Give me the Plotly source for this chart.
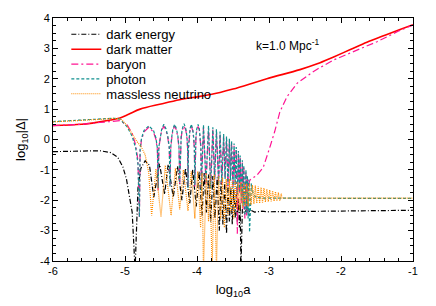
import plotly.graph_objects as go

# ---------------- data ----------------
de_x = [-6, -5.6, -5.35, -5.2, -5.1, -5.03, -4.98, -4.9, -4.86,
        -4.82, -4.78, -4.72, -4.66, -4.6, -4.52, -4.45, -4.40, -4.33, -4.27, -4.21,
        -4.16, -4.10, -4.06, -4.01, -3.97, -3.93, -3.90, -3.87, -3.84, -3.81,
        -3.78, -3.75, -3.72, -3.69, -3.665, -3.64, -3.615, -3.59, -3.57, -3.55,
        -3.53, -3.51, -3.49, -3.47, -3.455, -3.44, -3.425, -3.41, -3.40, -3.39,
        -3.37, -3.34, -3.31, -3.28, -3.25, -3.2, -3.1, -3.0, -2.0, -1.0]
de_y = [-0.40, -0.37, -0.37, -0.43, -0.59, -0.90, -1.30, -2.40, -4.30,
        -1.60, -0.95, -0.70, -0.85, -1.90, -0.80, -1.80, -0.82, -1.90, -0.88, -2.00,
        -0.95, -2.10, -1.00, -2.20, -1.05, -2.50, -1.10, -2.40, -1.15, -2.70,
        -1.20, -2.60, -1.25, -3.00, -1.35, -2.80, -1.40, -3.10, -1.50, -2.70,
        -1.58, -2.80, -1.65, -2.60, -1.80, -2.70, -1.95, -2.90, -2.10, -4.30,
        -2.30, -2.42, -2.30, -2.40, -2.33, -2.39, -2.36, -2.38, -2.35, -2.33]

dm_x = [-6, -5.6, -5.35, -5.2, -5.07, -4.95, -4.79, -4.5, -4.24, -3.96, -3.68,
        -3.5, -3.03, -2.57, -2.33, -2.11, -1.87, -1.64, -1.4, -1.18, -1.0]
dm_y = [0.46, 0.50, 0.58, 0.64, 0.71, 0.83, 1.00, 1.17, 1.31, 1.42, 1.55,
        1.66, 2.00, 2.30, 2.49, 2.71, 2.96, 3.20, 3.42, 3.62, 3.78]

ph_x = [-6, -5.6, -5.3, -5.15, -5.07, -4.97, -4.90, -4.85, -4.82, -4.80,
        -4.79, -4.77, -4.735, -4.67, -4.605, -4.57, -4.55, -4.54,
        -4.53, -4.51, -4.49, -4.46, -4.43, -4.405, -4.385, -4.375,
        -4.365, -4.35, -4.335, -4.31, -4.285, -4.265, -4.25, -4.24,
        -4.232, -4.22, -4.205, -4.18, -4.155, -4.14, -4.13, -4.125,
        -4.118, -4.108, -4.097, -4.08, -4.06, -4.047, -4.037, -4.03,
        -4.024, -4.015, -4.003, -3.985, -3.967, -3.955, -3.946, -3.94,
        -3.91, -3.875, -3.84, -3.81, -3.78, -3.755, -3.73, -3.70, -3.68, -3.655,
        -3.63, -3.61, -3.59, -3.57, -3.55, -3.535, -3.52, -3.50, -3.485, -3.47,
        -3.455, -3.44, -3.425, -3.41, -3.40, -3.385, -3.37, -3.36, -3.35, -3.335,
        -3.32, -3.31, -3.30, -3.29, -3.28, -3.27, -3.245, -3.22, -3.18, -3.1, -1.0]
ph_y = [0.59, 0.63, 0.68, 0.70, 0.67, 0.42, 0.10, -0.30, -0.80, -2.55,
        -0.30, 0.05, 0.30, 0.45, 0.30, 0.05, -0.30, -1.60,
        -0.25, 0.10, 0.35, 0.50, 0.35, 0.10, -0.25, -1.55,
        -0.25, 0.10, 0.35, 0.50, 0.35, 0.10, -0.25, -1.40,
        -0.25, 0.10, 0.35, 0.52, 0.35, 0.10, -0.25, -1.60,
        -0.25, 0.10, 0.35, 0.50, 0.35, 0.10, -0.25, -1.50,
        -0.25, 0.10, 0.35, 0.50, 0.35, 0.10, -0.25, -1.70,
        0.48, -1.40, 0.45, -1.60, 0.40, -1.30, 0.34, -1.50, 0.26, -1.40,
        0.18, -1.30, 0.10, -1.50, 0.03, -1.35, -0.05, -1.60, -0.13, -1.50,
        -0.25, -1.80, -0.38, -1.70, -0.53, -2.00, -0.68, -2.20, -0.85, -2.50,
        -1.00, -2.40, -1.18, -2.60, -1.32, -3.05, -1.44, -1.80, -1.90, -1.93, -1.94]

ba_x = [-6, -5.6, -5.35, -5.2, -5.07, -4.97, -4.90, -4.85, -4.82, -4.80,
        -4.79, -4.77, -4.735, -4.67, -4.605, -4.57, -4.55, -4.54,
        -4.53, -4.51, -4.49, -4.46, -4.43, -4.405, -4.385, -4.375,
        -4.365, -4.35, -4.335, -4.31, -4.285, -4.265, -4.25, -4.24,
        -4.232, -4.22, -4.205, -4.18, -4.155, -4.14, -4.13, -4.125,
        -4.118, -4.108, -4.097, -4.08, -4.06, -4.047, -4.037, -4.03,
        -4.024, -4.015, -4.003, -3.985, -3.967, -3.955, -3.946, -3.94,
        -3.91, -3.875, -3.84, -3.81, -3.78, -3.755, -3.73, -3.70, -3.68, -3.655,
        -3.63, -3.61, -3.59, -3.57, -3.55, -3.535, -3.52, -3.50, -3.485, -3.47,
        -3.455, -3.44, -3.425, -3.41, -3.40, -3.385, -3.37, -3.36, -3.35, -3.335,
        -3.32, -3.31, -3.30, -3.29, -3.275, -3.26, -3.17, -3.08, -3.035, -2.99, -2.92, -2.85,
        -2.75, -2.61, -2.43, -2.32, -2.1, -1.87, -1.5, -1.2, -1.0]
ba_y = [0.46, 0.50, 0.56, 0.60, 0.62, 0.48, 0.20, -0.20, -0.70, -2.55,
        -0.35, 0.00, 0.25, 0.40, 0.25, 0.00, -0.35, -1.70,
        -0.30, 0.05, 0.30, 0.44, 0.30, 0.05, -0.30, -1.50,
        -0.30, 0.05, 0.30, 0.44, 0.30, 0.05, -0.30, -1.45,
        -0.30, 0.05, 0.30, 0.45, 0.30, 0.05, -0.30, -1.55,
        -0.30, 0.05, 0.30, 0.44, 0.30, 0.05, -0.30, -1.55,
        -0.30, 0.05, 0.30, 0.43, 0.30, 0.05, -0.30, -1.60,
        0.40, -1.45, 0.37, -1.55, 0.32, -1.35, 0.26, -1.45, 0.18, -1.45,
        0.10, -1.25, 0.02, -1.55, -0.05, -1.40, -0.13, -1.55, -0.21, -1.45,
        -0.33, -3.10, -0.46, -1.75, -0.61, -2.10, -0.76, -2.30, -0.93, -2.60,
        -1.08, -2.50, -1.25, -2.40, -1.40, -1.32, -1.18, -0.92, -0.62, -0.27, 0.27, 0.90,
        1.41, 1.85, 2.16, 2.33, 2.62, 2.86, 3.22, 3.57, 3.77]

nu_x = [-6, -5.6, -5.3, -5.15, -5.05, -4.97, -4.90, -4.84, -4.78, -4.72, -4.67, -4.63,
        -4.57, -4.50, -4.44, -4.36, -4.30, -4.24, -4.19, -4.125, -4.08, -4.03,
        -3.99, -3.95, -3.93, -3.91, -3.87, -3.84, -3.82, -3.79, -3.76, -3.73,
        -3.70, -3.67, -3.645, -3.62, -3.595, -3.57, -3.55, -3.53, -3.51, -3.49,
        -3.47, -3.45, -3.43, -3.41, -3.39, -3.37, -3.35, -3.33, -3.31, -3.29,
        -3.27, -3.25, -3.23, -3.21, -3.19, -3.17, -3.15, -3.13, -3.11, -3.09,
        -3.07, -3.05, -3.03, -3.01, -2.99, -2.97, -2.95, -2.93, -2.91, -2.89,
        -2.87, -2.85, -2.83, -2.82, -1.0]
nu_y = [0.58, 0.62, 0.67, 0.70, 0.66, 0.45, 0.18, -0.05, -0.22, -0.50, -1.10, -2.50,
        -0.97, -2.55, -0.85, -2.50, -0.95, -2.30, -1.00, -2.35, -1.05, -2.60,
        -1.05, -2.90, -1.10, -4.30, -1.10, -2.70, -1.15, -4.30, -1.15, -4.30,
        -1.20, -2.60, -1.25, -2.90, -1.30, -2.50, -1.30, -2.40, -1.35, -2.60,
        -1.35, -2.30, -1.40, -2.35, -1.40, -2.25, -1.42, -2.20, -1.45, -2.20,
        -1.45, -2.15, -1.50, -2.12, -1.52, -2.10, -1.55, -2.10, -1.58, -2.08,
        -1.60, -2.06, -1.63, -2.05, -1.66, -2.04, -1.69, -2.03, -1.72, -2.02,
        -1.75, -2.01, -1.78, -1.93, -1.93]

x_tick_vals = [-6, -5, -4, -3, -2, -1]
x_tick_text = ["-6", "-5", "-4", "-3", "-2", "-1"]
y_tick_vals = [-4, -3, -2, -1, 0, 1, 2, 3, 4]
y_tick_text = ["-4", "-3", "-2", "-1", "0", "1", "2", "3", "4"]

names = ["dark energy", "dark matter", "baryon", "photon", "massless neutrino"]

# ---------------- figure ----------------
FONT = "Liberation Sans, Arial, Helvetica, sans-serif"
fig = go.Figure()
fig.add_trace(go.Scatter(x=de_x, y=de_y, mode="lines", name=names[0], legend="legend",
                         line=dict(color="black", width=1.2, dash="5px,2px,1px,2px")))
fig.add_trace(go.Scatter(x=dm_x, y=dm_y, mode="lines", name=names[1], legend="legend2",
                         line_shape="spline", line=dict(color="#ff0000", width=1.6)))
fig.add_trace(go.Scatter(x=ba_x, y=ba_y, mode="lines", name=names[2], legend="legend3",
                         line=dict(color="#ff1493", width=1.2, dash="7px,3px,2px,3px")))
fig.add_trace(go.Scatter(x=ph_x, y=ph_y, mode="lines", name=names[3], legend="legend4",
                         line=dict(color="#11908f", width=1.2, dash="3px,2px")))
fig.add_trace(go.Scatter(x=nu_x, y=nu_y, mode="lines", name=names[4], legend="legend5",
                         line=dict(color="#ff8c00", width=1.2, dash="1px,1px")))

axis_common = dict(showline=True, linecolor="black", linewidth=1, mirror="allticks",
                   ticks="inside", ticklen=5, tickwidth=1, tickcolor="black",
                   showgrid=False, zeroline=False,
                   tickfont=dict(family=FONT, size=11, color="black"))

fig.update_xaxes(range=[-6, -1], tickvals=x_tick_vals, ticktext=x_tick_text,
                 minor=dict(dtick=0.2, ticklen=3, ticks="inside", tickcolor="black"),
                 title=dict(text="log<sub>10</sub>a", font=dict(family=FONT, size=13, color="black"),
                            standoff=8),
                 **axis_common)
fig.update_yaxes(range=[-4, 4], tickvals=y_tick_vals, ticktext=y_tick_text,
                 minor=dict(dtick=0.25, ticklen=3, ticks="inside", tickcolor="black"),
                 title=dict(text="log<sub>10</sub>|Δ|", font=dict(family=FONT, size=13, color="black"),
                            standoff=11),
                 **axis_common)

fig.add_annotation(x=-2.75, y=3.11, xref="x", yref="y", showarrow=False,
                   text="k=1.0 Mpc<sup>-1</sup>",
                   font=dict(family=FONT, size=12, color="black"))

leg_y = [0.933, 0.8715, 0.810, 0.749, 0.688]
leg_common = dict(x=0.037, xanchor="left", yanchor="middle", bgcolor="rgba(0,0,0,0)",
                  borderwidth=0, itemwidth=30,
                  font=dict(family=FONT, size=13, color="black"))
fig.update_layout(width=436, height=306,
                  margin=dict(l=53, r=23, t=15, b=38),
                  paper_bgcolor="white", plot_bgcolor="white",
                  showlegend=True,
                  legend=dict(y=leg_y[0], **leg_common),
                  legend2=dict(y=leg_y[1], **leg_common),
                  legend3=dict(y=leg_y[2], **leg_common),
                  legend4=dict(y=leg_y[3], **leg_common),
                  legend5=dict(y=leg_y[4], **leg_common))

fig.write_html("out.html", config={"displayModeBar": False},
               post_script="document.body.style.margin='0px';")
